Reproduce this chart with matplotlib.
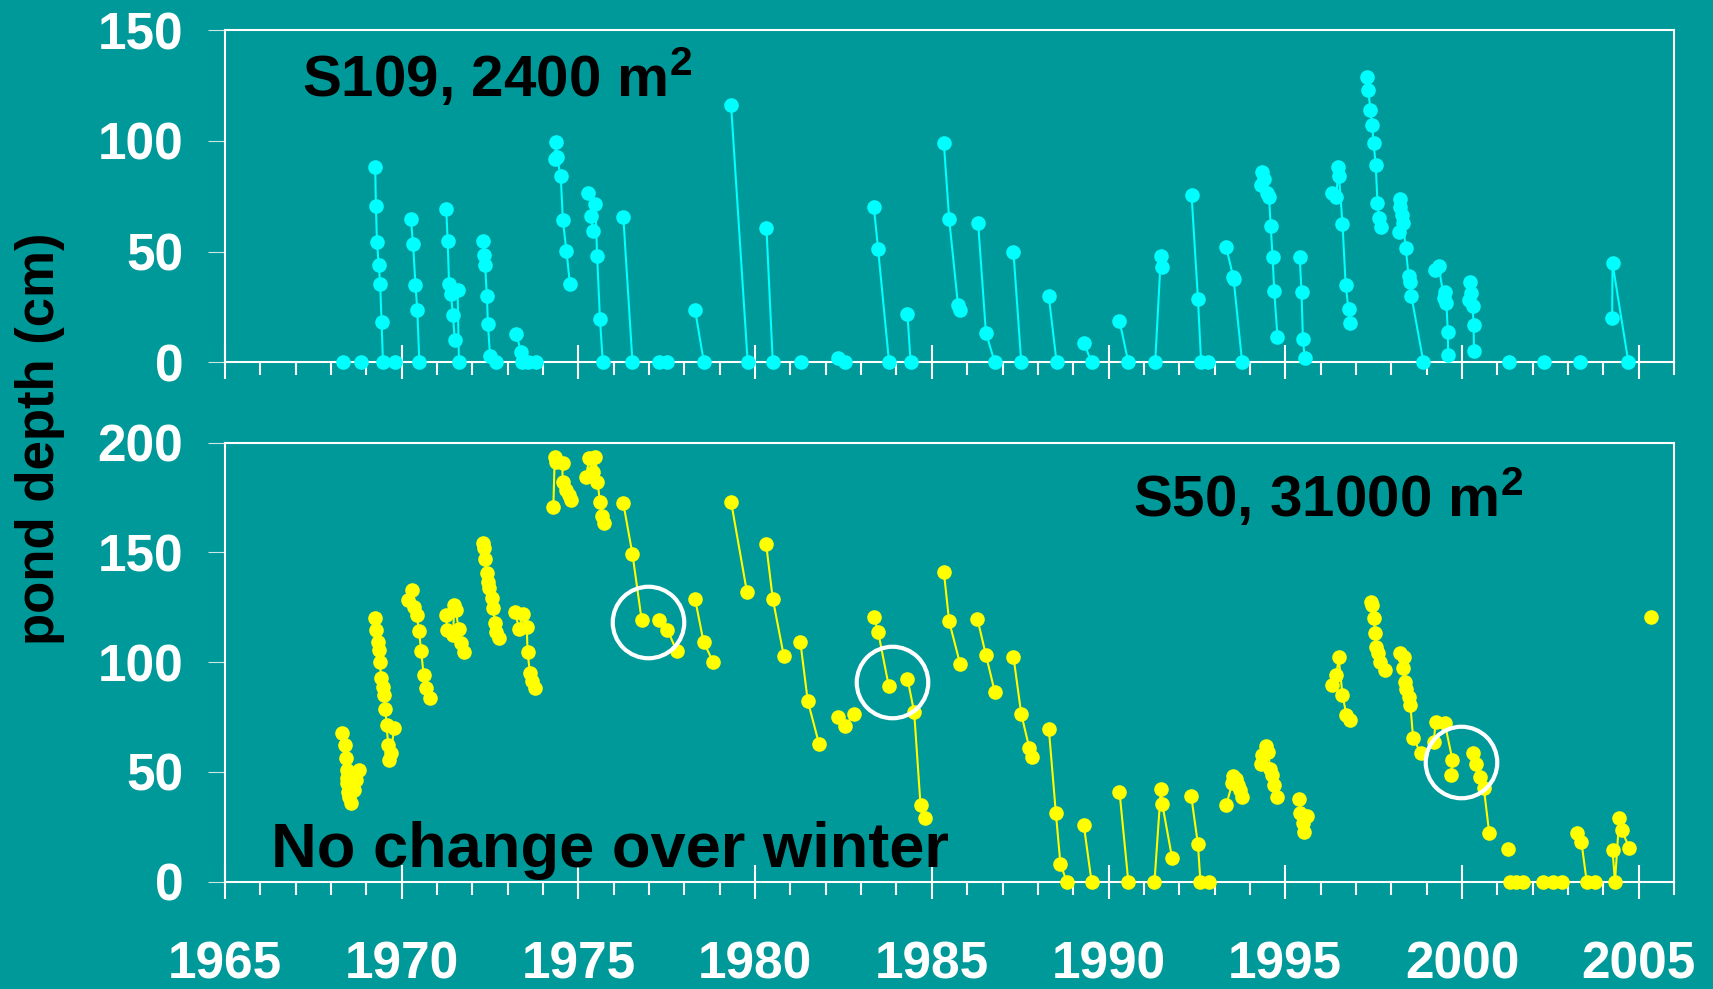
import numpy as np
import matplotlib
matplotlib.use("Agg")
import matplotlib.pyplot as plt
from matplotlib.ticker import MultipleLocator

# ---------------- data (year, pond depth in cm), one list per season segment ----------
S109_YEARS = [
    [1968.34], [1968.86],
    [1969.25, 1969.27, 1969.30, 1969.35, 1969.39, 1969.43, 1969.47], [1969.80],
    [1970.26, 1970.32, 1970.39, 1970.44, 1970.50],
    [1971.26, 1971.30, 1971.34, 1971.39, 1971.45, 1971.50], [1971.58, 1971.62],
    [1972.30, 1972.32, 1972.36, 1972.41, 1972.44, 1972.50, 1972.66],
    [1973.24, 1973.38, 1973.40], [1973.58], [1973.80],
    [1974.33, 1974.36, 1974.39, 1974.50, 1974.56, 1974.66, 1974.76],
    [1975.28, 1975.48, 1975.53, 1975.61, 1975.69], [1975.36, 1975.41],
    [1976.27, 1976.53], [1977.27], [1977.51],
    [1978.30, 1978.55], [1979.32, 1979.79], [1980.32, 1980.50], [1981.29],
    [1982.35, 1982.55], [1983.36, 1983.48, 1983.79], [1984.31, 1984.40],
    [1985.34, 1985.49, 1985.74, 1985.80], [1986.31, 1986.53, 1986.78],
    [1987.31, 1987.53], [1988.31, 1988.53], [1989.30, 1989.52], [1990.31, 1990.56],
    [1991.32, 1991.48, 1991.52], [1992.35, 1992.53, 1992.62], [1992.82],
    [1993.33, 1993.53, 1993.54, 1993.78],
    [1994.32, 1994.35, 1994.40, 1994.48, 1994.54, 1994.59, 1994.64, 1994.69, 1994.78],
    [1995.41, 1995.46, 1995.50, 1995.55],
    [1996.33, 1996.45, 1996.50, 1996.52, 1996.62, 1996.71, 1996.79, 1996.84],
    [1997.30, 1997.35, 1997.41, 1997.46, 1997.50, 1997.56, 1997.61, 1997.65, 1997.72],
    [1998.22, 1998.25, 1998.26, 1998.29, 1998.33, 1998.41, 1998.49, 1998.52, 1998.57, 1998.91],
    [1999.24, 1999.34, 1999.49, 1999.52, 1999.56, 1999.60, 1999.61],
    [2000.19, 2000.24, 2000.27, 2000.30, 2000.33, 2000.34],
    [2001.33], [2002.32], [2003.33],
    [2004.25, 2004.26, 2004.71],
]
S109_DEPTH = [
    [0], [0],
    [88, 70.4, 54.2, 43.9, 35.5, 18.2, 0], [0],
    [64.7, 53.5, 34.9, 23.7, 0],
    [69.2, 54.9, 35.5, 30.8, 21.4, 10], [32.6, 0],
    [54.6, 48.3, 43.9, 29.9, 17.3, 2.8, 0],
    [12.9, 4.6, 0], [0], [0],
    [91.6, 99.4, 92.5, 84.1, 64.1, 50.4, 35.3],
    [76.6, 71.5, 47.8, 19.5, 0], [66, 59.1],
    [65.7, 0], [0], [0],
    [23.7, 0], [116, 0], [60.8, 0], [0],
    [1.8, 0], [70, 51, 0], [21.8, 0],
    [99, 64.8, 25.9, 23.7], [62.9, 13.4, 0],
    [49.8, 0], [29.8, 0], [8.9, 0], [18.8, 0],
    [0, 47.8, 42.9], [75.4, 28.7, 0], [0],
    [51.9, 38.5, 37.5, 0],
    [80, 85.8, 82.7, 76.6, 74.8, 61.4, 47.7, 32, 11.6],
    [47.4, 31.7, 10.7, 1.8],
    [76.6, 74.8, 88.3, 84.2, 62.4, 34.9, 23.9, 17.9],
    [128.9, 122.9, 113.9, 107, 98.9, 89.1, 72, 65, 61.2],
    [58.7, 73.9, 70.2, 66.5, 63, 51.5, 39, 36.2, 29.9, 0],
    [41.7, 43.6, 28.9, 31.9, 26.6, 13.8, 3.3],
    [28.1, 36.4, 31.1, 25.4, 16.7, 5.1],
    [0], [0], [0],
    [19.9, 44.7, 0],
]

S50_YEARS = [
    [1968.32, 1968.40, 1968.42, 1968.44, 1968.45, 1968.46, 1968.48, 1968.51, 1968.56, 1968.65, 1968.71, 1968.79],
    [1969.24, 1969.27, 1969.32, 1969.35, 1969.39, 1969.41, 1969.48, 1969.51, 1969.54, 1969.57, 1969.62, 1969.64, 1969.69, 1969.79],
    [1970.19, 1970.30, 1970.35, 1970.42, 1970.49, 1970.55, 1970.62, 1970.68, 1970.80],
    [1971.25, 1971.29, 1971.46, 1971.48, 1971.53, 1971.61, 1971.69, 1971.77],
    [1972.29, 1972.33, 1972.36, 1972.40, 1972.43, 1972.48, 1972.55, 1972.59, 1972.64, 1972.68, 1972.76],
    [1973.21, 1973.32, 1973.44, 1973.54, 1973.56, 1973.63, 1973.68, 1973.77],
    [1974.29, 1974.33, 1974.36, 1974.55, 1974.55, 1974.65, 1974.72, 1974.79],
    [1975.21, 1975.31, 1975.40, 1975.48, 1975.54, 1975.61, 1975.67, 1975.73],
    [1976.27, 1976.53, 1976.79], [1977.29, 1977.52, 1977.78],
    [1978.30, 1978.54, 1978.81], [1979.32, 1979.77], [1980.31, 1980.50, 1980.81],
    [1981.28, 1981.49, 1981.81], [1982.34, 1982.55, 1982.79],
    [1983.36, 1983.48, 1983.78], [1984.31, 1984.50, 1984.68, 1984.81],
    [1985.34, 1985.49, 1985.80], [1986.29, 1986.53, 1986.78],
    [1987.31, 1987.53, 1987.76, 1987.83], [1988.31, 1988.51, 1988.64, 1988.82],
    [1989.30, 1989.52], [1990.31, 1990.56], [1991.30, 1991.48, 1991.52, 1991.80],
    [1992.34, 1992.53, 1992.60, 1992.84],
    [1993.33, 1993.50, 1993.52, 1993.60, 1993.66, 1993.73, 1993.77],
    [1994.32, 1994.35, 1994.45, 1994.51, 1994.58, 1994.63, 1994.68, 1994.77],
    [1995.39, 1995.43, 1995.49, 1995.54, 1995.62],
    [1996.33, 1996.45, 1996.51, 1996.62, 1996.73, 1996.82],
    [1997.42, 1997.45, 1997.50, 1997.55, 1997.58, 1997.62, 1997.67, 1997.83],
    [1998.24, 1998.33, 1998.35, 1998.38, 1998.43, 1998.50, 1998.54, 1998.62, 1998.83],
    [1999.20, 1999.26, 1999.51, 1999.73, 1999.70],
    [2000.32, 2000.41, 2000.50, 2000.62, 2000.77],
    [2001.31], [2001.35, 2001.54, 2001.73], [2002.28, 2002.58, 2002.82],
    [2003.26, 2003.38, 2003.53, 2003.76],
    [2004.26, 2004.33, 2004.45, 2004.52, 2004.73],
    [2005.35],
]
S50_DEPTH = [
    [67.6, 62.3, 56.2, 50.9, 47.1, 44.8, 41, 38.7, 35.7, 41.8, 46.3, 50.9],
    [120, 114.7, 109.3, 105.6, 100.2, 92.7, 88.8, 85.1, 78.5, 71.4, 62.3, 55.4, 58.8, 69.9],
    [128.3, 132.9, 125.3, 121.6, 114.2, 105.2, 94.2, 88.1, 83.6],
    [121.6, 114.7, 112.4, 126.1, 123.8, 115, 108.6, 104.8],
    [154.2, 151.9, 146.9, 140.8, 136.7, 133.7, 129.1, 124.6, 117.7, 113.9, 110.9],
    [123, 115, 122, 115.9, 104.8, 94.9, 91.6, 88.1],
    [170.6, 193.6, 191.3, 190.6, 182.2, 178.5, 176.2, 173.9],
    [184.5, 192.9, 186.8, 193.6, 182.2, 173.1, 166.6, 163.3],
    [172.4, 149.2, 119.2], [119.2, 114.7, 105.1],
    [128.9, 109.3, 100.2], [173.1, 131.8], [154, 128.8, 103],
    [109.2, 82.3, 62.7], [75.2, 71.1, 76.3],
    [120.7, 113.9, 89.2], [92.5, 77.3, 34.9, 28.9],
    [141.2, 118.6, 99.2], [119.7, 103.3, 86.6],
    [102.5, 76.4, 60.8, 57], [69.7, 31.2, 7.9, 0],
    [25.8, 0], [41, 0], [0, 42.1, 35.4, 10.7],
    [39, 17, 0, 0],
    [34.9, 44.8, 48.2, 47, 44, 42, 38.5],
    [53.6, 57.7, 61.8, 59.2, 51.2, 48.6, 44, 38.5],
    [37.5, 31.2, 26.6, 22.5, 29.9],
    [89.6, 94.2, 102.2, 85.1, 76, 73.7],
    [127.6, 126, 120, 113.2, 107.1, 104.1, 100.2, 96.4],
    [104.1, 97.2, 102.2, 91.1, 87.6, 84.3, 80.5, 65.3, 58.8],
    [63.8, 72.9, 72.4, 55.6, 48.6],
    [58.5, 53.6, 47.8, 42.6, 22.3],
    [14.8], [0, 0, 0], [0, 0, 0],
    [22, 18.2, 0, 0],
    [14.4, 0, 28.9, 23.6, 15.5],
    [120.7],
]

CIRCLE_YEARS = [1976.97, 1983.88, 1999.96]
CIRCLE_DEPTH = [118.5, 91.0, 54.7]

YEAR_TICKS = [1965, 1970, 1975, 1980, 1985, 1990, 1995, 2000, 2005]
S109_YTICKS = [0, 50, 100, 150]
S50_YTICKS = [0, 50, 100, 150, 200]

# ---------------- style ----------------
BG = "#009999"
FONT = ["Liberation Sans", "DejaVu Sans"]
plt.rcParams["font.family"] = FONT
plt.rcParams["font.weight"] = "bold"
plt.rcParams["mathtext.fontset"] = "custom"
plt.rcParams["mathtext.rm"] = "Liberation Sans:bold"
plt.rcParams["mathtext.bf"] = "Liberation Sans:bold"
plt.rcParams["mathtext.it"] = "Liberation Sans:bold"
plt.rcParams["mathtext.default"] = "rm"

W, H = 1713, 989
fig = plt.figure(figsize=(W / 100, H / 100), dpi=100, facecolor=BG)

left, right = 225, 1674
ax1 = fig.add_axes([left / W, 1 - 362.3 / H, (right - left) / W, (362.3 - 30) / H])
ax2 = fig.add_axes([left / W, 1 - 881.7 / H, (right - left) / W, (881.7 - 442.7) / H])


def style(ax, yticks, ymax, labels):
    ax.set_facecolor(BG)
    ax.set_xlim(1965, 2006)
    ax.set_ylim(0, ymax)
    for s in ax.spines.values():
        s.set_color("white")
        s.set_linewidth(1.5)
    ax.set_xticks(YEAR_TICKS)
    ax.xaxis.set_minor_locator(MultipleLocator(1))
    ax.set_yticks(yticks)
    ax.tick_params(axis="x", which="major", direction="inout", length=25, width=1.5,
                   color="white", pad=30, labelsize=37, labelcolor="white",
                   labelbottom=labels)
    ax.tick_params(axis="x", which="minor", direction="out", length=9, width=1.5,
                   color="white")
    ax.tick_params(axis="y", which="major", direction="out", length=12, width=0.8,
                   color="#cfe6e6", pad=18, labelsize=37, labelcolor="white")
    for lab in ax.get_xticklabels() + ax.get_yticklabels():
        lab.set_fontweight("bold")


style(ax1, S109_YTICKS, 150, False)
style(ax2, S50_YTICKS, 200, True)

for xs, ys in zip(S109_YEARS, S109_DEPTH):
    ax1.plot(xs, ys, "-o", color="#00ffff", lw=1.5, ms=10.5, mew=0, clip_on=False, zorder=3)

for xs, ys in zip(S50_YEARS, S50_DEPTH):
    ax2.plot(xs, ys, "-o", color="#ffff00", lw=1.5, ms=10.5, mew=0, clip_on=False, zorder=3)

ax2.plot(CIRCLE_YEARS, CIRCLE_DEPTH, linestyle="none", marker="o", ms=51.5,
         mfc="none", mec="white", mew=3, zorder=4)

ax1.text(0.053, 0.798, r"S109, 2400 m$^{2}$", transform=ax1.transAxes, fontsize=42,
         fontweight="bold", color="black", ha="left", va="baseline")
ax2.text(0.6264, 0.831, r"S50, 31000 m$^{2}$", transform=ax2.transAxes, fontsize=42,
         fontweight="bold", color="black", ha="left", va="baseline")
ax2.text(0.0317, 0.034, "No change over winter", transform=ax2.transAxes, fontsize=45.5,
         fontweight="bold", color="black", ha="left", va="baseline", zorder=5)

fig.text(40 / W, 1 - 439 / H, "pond depth (cm)", rotation=90, fontsize=38,
         fontweight="bold", color="black", ha="center", va="center")

fig.savefig("out.png", dpi=100, facecolor=BG)
